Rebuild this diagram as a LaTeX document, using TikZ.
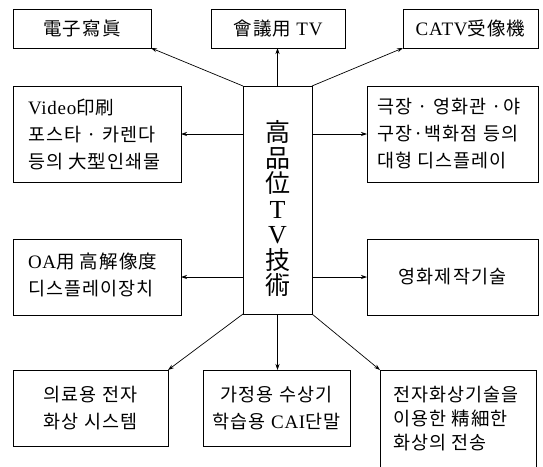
\documentclass[tikz,border=0pt]{standalone}
\usepackage{fontspec}
\setmainfont[LetterSpace=6]{Noto Sans CJK KR}
\newfontfamily\lat[LetterSpace=4]{Liberation Serif}
\usetikzlibrary{arrows.meta}

\newcommand\CLines[1]{\vbox{\halign{\hfil##\hfil\cr#1\crcr}}}
\newcommand\LLines[1]{\vbox{\halign{##\hfil\cr#1\crcr}}}
\newcommand\LeftIn[3]{\hbox to #1{\hspace*{#2}#3\hfil}}
\newcommand\Lt[1]{{\lat\fontsize{19}{27}\selectfont #1}}
\newcommand\BigLt[1]{{\lat\fontsize{26}{25.5}\selectfont #1}}

\begin{document}
\begin{tikzpicture}[x=1pt,y=-1pt,
  box/.style={draw, line width=0.9pt, inner sep=0pt, outer sep=0pt,
    font=\fontsize{18.5}{27}\selectfont},
  arr/.style={-{Stealth[length=6pt,width=4pt]}, line width=0.7pt}]
\useasboundingbox (0,0) rectangle (543,466);

% top row
\node[box, minimum width=138pt, minimum height=39pt] (A) at (82,28.5) {電子寫眞};
\node[box, minimum width=134pt, minimum height=39pt] (B) at (278,28.5) {會議用 \Lt{TV}};
\node[box, minimum width=135pt, minimum height=39pt] (C) at (470.5,28.5) {\Lt{CATV}受像機};

% second row
\node[box, minimum width=168pt, minimum height=96pt] (D) at (97,134)
  {\LeftIn{168pt}{15pt}{\LLines{\Lt{Video}印刷\cr 포스타 · 카렌다\cr 등의 大型인쇄물}}};
\node[box, minimum width=171pt, minimum height=96pt] (E) at (452.5,134)
  {\LeftIn{171pt}{10pt}{\LLines{극장 · 영화관 ·야\cr 구장·백화점 등의\cr 대형 디스플레이}}};

% third row
\node[box, minimum width=168pt, minimum height=76pt] (F) at (97,277)
  {\LeftIn{168pt}{15pt}{\vbox{\LLines{\Lt{OA}用 高解像度\cr 디스플레이장치}\kern5pt}}};
\node[box, minimum width=171pt, minimum height=76pt] (G) at (452.5,277) {영화제작기술};

% bottom row
\node[box, minimum width=155pt, minimum height=76pt] (H) at (90.5,408)
  {\CLines{의료용 전자\cr 화상 시스템}};
\node[box, minimum width=147pt, minimum height=76pt] (I) at (276.5,408)
  {\CLines{가정용 수상기\cr 학습용 \Lt{CAI}단말}};
\node[box, minimum width=156pt, minimum height=98pt,
  font=\fontsize{18.5}{24}\selectfont] (J) at (458,419)
  {\LeftIn{156pt}{13pt}{\LLines{전자화상기술을\cr 이용한 精細한\cr 화상의 전송}}};

% centre
\node[box, minimum width=69pt, minimum height=228pt,
  font=\fontsize{25}{25.5}\selectfont] (K) at (277.5,200)
  {\lineskiplimit=-30pt\relax
   \vbox{\kern17pt\CLines{高\cr 品\cr 位\cr \BigLt{T}\cr \BigLt{V}\cr 技\cr 術}}};

% connectors
\draw[arr] (K.north west) -- (A.south east);
\draw[arr] (K.north) -- (K.north |- B.south);
\draw[arr] (K.north east) -- (C.south west);
\draw[arr] (K.west |- D.east) -- (D.east);
\draw[arr] (K.east |- E.west) -- (E.west);
\draw[arr] (K.west |- F.east) -- (F.east);
\draw[arr] (K.east |- G.west) -- (G.west);
\draw[arr] (K.south west) -- (H.north east);
\draw[arr] (K.south) -- (K.south |- I.north);
\draw[arr] (K.south east) -- (J.north west);
\end{tikzpicture}
\end{document}
